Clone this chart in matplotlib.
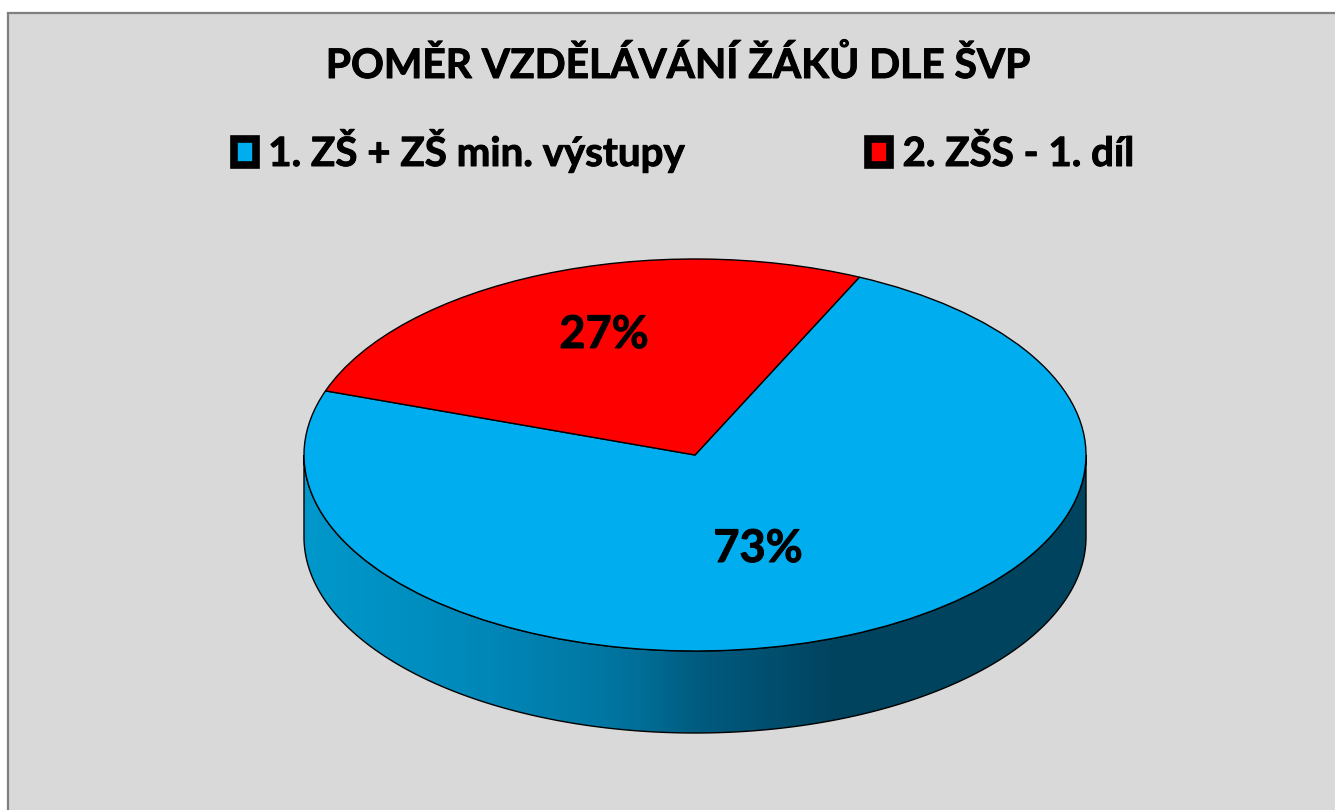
import numpy as np
import matplotlib
matplotlib.use("Agg")
import matplotlib.pyplot as plt
import matplotlib.patches as patches
import matplotlib.patheffects as pe
from matplotlib.colors import LinearSegmentedColormap
from matplotlib.path import Path

W, H = 1335, 810

title = "POMĚR VZDĚLÁVÁNÍ ŽÁKŮ DLE ŠVP"
categories = ["1. ZŠ + ZŠ min. výstupy", "2. ZŠS - 1. díl"]
shares = [73.4, 26.6]
colors = ["#00AEEF", "#FF0000"]

plt.rcParams['font.family'] = ['Lato', 'DejaVu Sans']

# Pie centre and radii in pixels of the picture
cx, cy, rx, ry = 695, 455, 391, 196
depth = 82 / ry

# Lato is a bit lighter than the original font, thicken it slightly
heavy = [pe.withStroke(linewidth=0.7, foreground='black')]


def to_x(px):
    return (px - cx) / rx


def to_y(py):
    return (cy - py) / ry


fig = plt.figure(figsize=(W / 100, H / 100), dpi=100, facecolor='white')

# Grey chart area, runs off the right and bottom edges
panel = patches.Rectangle((8 / W, -0.02), 1.1, 1.02 - 13 / H, transform=fig.transFigure,
                          facecolor='#D9D9D9', edgecolor='#7F7F7F', linewidth=1.6, zorder=-1)
fig.add_artist(panel)

ax = fig.add_axes([0, 0, 1, 1])
wedges, _, pct = ax.pie(shares, colors=colors, startangle=160.9, radius=1, autopct='%.0f%%',
                        wedgeprops={'edgecolor': 'black', 'linewidth': 1.0, 'zorder': 3},
                        textprops={'fontsize': 32.5, 'fontweight': 'bold', 'color': 'black', 'zorder': 4})
ax.set_aspect('auto')
pct[0].set_position((to_x(758), to_y(549)))
pct[1].set_position((to_x(604), to_y(335)))
for p in pct:
    p.set_path_effects(heavy)

# Side wall of the disc, horizontal gradient clipped to the wall outline
t = np.linspace(np.pi, 2 * np.pi, 300)
xs = np.concatenate([np.cos(t), np.cos(t[::-1])])
ys = np.concatenate([np.sin(t) - depth, np.sin(t[::-1])])
wall = patches.Polygon(np.column_stack([xs, ys]), closed=True, facecolor='none',
                       edgecolor='black', linewidth=1.0, zorder=2)
ax.add_patch(wall)

side_cmap = LinearSegmentedColormap.from_list("side", [
    (0.00, '#0098CB'), (0.12, '#0090C2'), (0.24, '#0086B7'), (0.38, '#0077A3'),
    (0.44, '#006C94'), (0.50, '#005C80'), (0.58, '#005172'), (0.68, '#00435E'),
    (1.00, '#00445E')])
img = ax.imshow(np.linspace(0, 1, 600).reshape(1, -1), cmap=side_cmap, aspect='auto',
                extent=(-1, 1, -1 - depth, 0), zorder=1, interpolation='bilinear')
img.set_clip_path(Path(wall.get_xy()), ax.transData)
ax.set_xlim(to_x(0), to_x(W))
ax.set_ylim(to_y(H), to_y(0))

fig.text(678 / W, 1 - 65.5 / H, title, ha='center', va='center', fontsize=29.3,
         fontweight='bold', path_effects=heavy)

handles = [patches.Patch(facecolor=c, edgecolor='black', linewidth=5.5, joinstyle='round') for c in colors]
leg = fig.legend(handles, categories, ncols=2, loc='center left',
                 bbox_to_anchor=(234 / W, 1 - 151 / H), borderaxespad=0, borderpad=0,
                 frameon=False, prop={'size': 29, 'weight': 'bold'},
                 handlelength=0.55, handleheight=0.6, handletextpad=0.3, columnspacing=4.56)
for txt in leg.get_texts():
    txt.set_path_effects(heavy)

fig.savefig("out.png", dpi=100)
